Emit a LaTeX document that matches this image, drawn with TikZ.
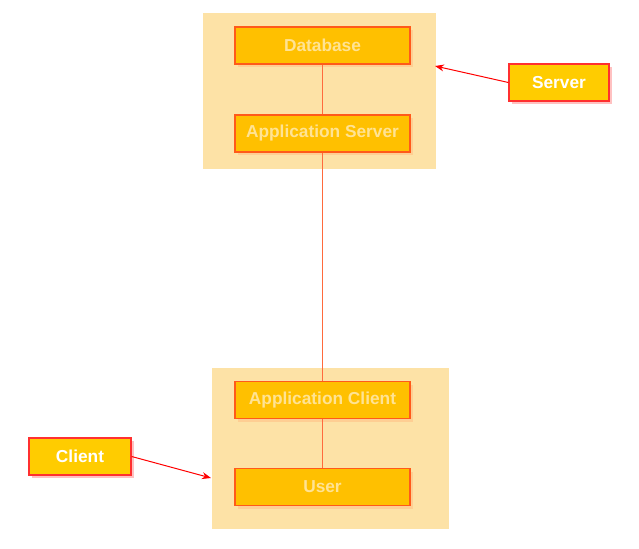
\documentclass[tikz,border=0pt]{standalone}
\usepackage{fontspec}
\setsansfont{Liberation Sans}
\usetikzlibrary{shadows,arrows.meta}
\definecolor{groupfill}{HTML}{FDE2A6}
\definecolor{boxfill}{HTML}{FFC000}
\definecolor{boxline}{HTML}{FF5A1A}
\definecolor{boxtext}{HTML}{FFE394}
\definecolor{tagfill}{HTML}{FFCC00}
\definecolor{tagline}{HTML}{FF3030}
\definecolor{wire}{HTML}{FF6A3D}

\tikzset{
  tierbox/.style={draw=boxline, line width=1.3bp, fill=boxfill, minimum width=175bp, minimum height=37bp,
    inner sep=0pt, font=\sffamily\bfseries\fontsize{17.3bp}{19bp}\selectfont, text=boxtext,
    drop shadow={shadow xshift=3bp, shadow yshift=-3bp, fill=orange!45, opacity=0.7}},
  tagbox/.style={draw=tagline, line width=1.3bp, fill=tagfill, minimum height=37bp,
    inner sep=0pt, font=\sffamily\bfseries\fontsize{17.3bp}{19bp}\selectfont, text=white,
    drop shadow={shadow xshift=3bp, shadow yshift=-3bp, fill=red!30, opacity=0.8}},
  wireline/.style={draw=wire, line width=0.9bp},
  pointer/.style={draw=red, line width=1bp, -{Stealth[length=9bp,width=7bp]}}
}

\begin{document}
\begin{tikzpicture}[x=1bp, y=-1bp]
		%%%%% GROUPS %%%%%
		\useasboundingbox (0, 0) rectangle (639, 549);
		
		\fill[groupfill] (203, 13) rectangle (436, 169);
		\fill[groupfill] (212, 368) rectangle (449, 529);
		
		%%%%% TIERS %%%%%
		\node[tierbox] (db) at (322.5, 45.5) {Database};
		\node[tierbox] (appsrv) at (322.5, 133.5) {Application Server};
		\node[tierbox] (appcli) at (322.5, 400) {Application Client};
		\node[tierbox] (user) at (322.5, 487) {User};
		
		\draw[wireline] (db) -- (appsrv);
		\draw[wireline] (appsrv) -- (appcli);
		\draw[wireline] (appcli) -- (user);
		
		%%%%% TAGS %%%%%
		\node[tagbox, minimum width=100bp] (srvtag) at (559, 82.5) {Server};
		\node[tagbox, minimum width=102bp] (clitag) at (80, 456.5) {Client};
		
		\coordinate (srvtip) at (435, 66);
		\coordinate (clitip) at (211, 478);
		
		\draw[pointer] (srvtag.west) -- (srvtip);
		\draw[pointer] (clitag.east) -- (clitip);
		
		%%%%% END %%%%%
	\end{tikzpicture}
\end{document}
